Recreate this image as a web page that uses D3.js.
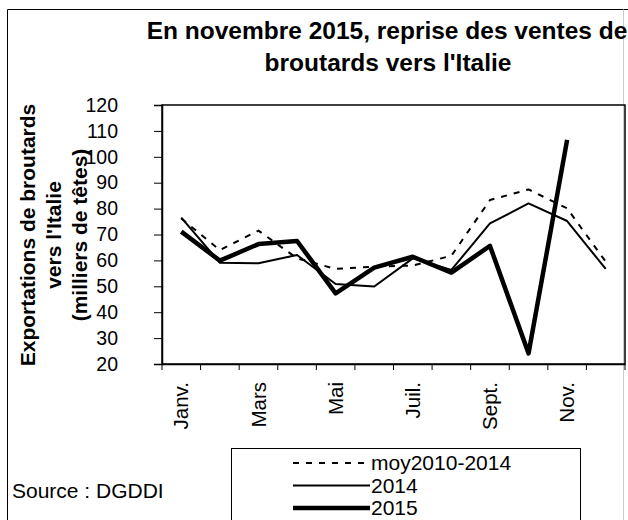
<!DOCTYPE html>
<html>
<head>
<meta charset="utf-8">
<script src="https://cdn.jsdelivr.net/npm/d3@7"></script>
<style>
  body { margin: 0; background: #fff; }
  svg { font-family: "Liberation Sans", Arial, sans-serif; }
</style>
</head>
<body>
<div id="chart"></div>
<script>
(function () {
    'use strict';

    var months = ['Janv.', 'Févr.', 'Mars', 'Avr.', 'Mai', 'Juin', 'Juil.', 'Août', 'Sept.', 'Oct.', 'Nov.', 'Déc.'];
    var shownMonths = ['Janv.', 'Mars', 'Mai', 'Juil.', 'Sept.', 'Nov.'];
    var moy = [76.2, 64.0, 71.5, 60.8, 56.7, 57.6, 58.0, 61.8, 83.3, 87.4, 80.1, 59.5];
    var y2014 = [76.5, 59.1, 58.9, 62.1, 50.9, 49.9, 60.8, 56.3, 74.3, 82.0, 75.2, 56.7];
    var y2015 = [71.1, 59.9, 66.3, 67.5, 47.3, 57.2, 61.4, 55.3, 65.6, 24.1, 106.5];
    var yTicks = [20, 30, 40, 50, 60, 70, 80, 90, 100, 110, 120];

    var W = 628, H = 520;
    var margin = {top: 105, right: 3, bottom: 156, left: 162},
        width = W - margin.left - margin.right,
        height = H - margin.top - margin.bottom;

    var svg = d3.select('#chart').append('svg')
        .attr('width', W)
        .attr('height', H);

    // outer frame
    svg.append('line')
        .attr('x1', 7.5).attr('x2', 7.5).attr('y1', 9.5).attr('y2', H)
        .attr('stroke', '#000');
    svg.append('line')
        .attr('x1', 7.5).attr('x2', W).attr('y1', 9.5).attr('y2', 9.5)
        .attr('stroke', '#000');
    svg.append('line')
        .attr('x1', 623.5).attr('x2', 623.5).attr('y1', 9.5).attr('y2', H)
        .attr('stroke', '#ccc');

    svg.append('text')
        .attr('x', 387).attr('y', 39)
        .attr('text-anchor', 'middle')
        .style('font-weight', 'bold').style('font-size', '24.5px')
        .text('En novembre 2015, reprise des ventes de');
    svg.append('text')
        .attr('x', 388).attr('y', 71)
        .attr('text-anchor', 'middle')
        .style('font-weight', 'bold').style('font-size', '24.5px')
        .text("broutards vers l'Italie");

    var g = svg.append('g')
        .attr('transform', 'translate(' + margin.left + ',' + margin.top + ')');

    var x = d3.scaleBand().domain(months).range([0, width]);
    var y = d3.scaleLinear().domain([20, 120]).range([height, 0]);

    // plot box
    g.append('rect')
        .attr('width', width).attr('height', height)
        .attr('fill', 'none').attr('stroke', '#000').attr('stroke-width', 1.5);

    var yAxis = g.append('g')
        .call(d3.axisLeft(y).tickValues(yTicks).tickSize(8).tickPadding(36));
    yAxis.select('.domain').attr('stroke-width', 1.5);
    yAxis.selectAll('text').style('font-size', '19.5px').attr('fill', '#000');

    var xAxis = g.append('g')
        .attr('transform', 'translate(0,' + height + ')')
        .call(d3.axisBottom(x).tickSize(0).tickFormat(function (d) {
            return shownMonths.indexOf(d) >= 0 ? d : '';
        }));
    xAxis.select('.domain').attr('stroke-width', 1.5);
    xAxis.selectAll('text')
        .style('font-size', '20.5px').attr('fill', '#000')
        .attr('text-anchor', 'end')
        .attr('transform', 'rotate(-90)')
        .attr('x', -18).attr('y', 0).attr('dy', '0.35em');

    // band boundary ticks
    var bounds = months.map(function (m) { return x(m); }).concat([width]);
    g.selectAll('.xtick').data(bounds).enter().append('line')
        .attr('x1', function (d) { return d; }).attr('x2', function (d) { return d; })
        .attr('y1', height).attr('y2', height + 6)
        .attr('stroke', '#000').attr('stroke-width', 1);

    var line = d3.line()
        .x(function (d, i) { return x(months[i]) + x.bandwidth() / 2; })
        .y(function (d) { return y(d); });

    var series = [
        {name: 'moy2010-2014', values: moy, width: 2, dash: '6,7'},
        {name: '2014', values: y2014, width: 2, dash: null},
        {name: '2015', values: y2015, width: 4.5, dash: null}
    ];

    g.selectAll('.series').data(series).enter().append('path')
        .attr('fill', 'none').attr('stroke', '#000')
        .attr('stroke-width', function (d) { return d.width; })
        .attr('stroke-dasharray', function (d) { return d.dash; })
        .attr('stroke-linejoin', 'round')
        .attr('d', function (d) { return line(d.values); });

    // y axis title
    var yTitle = svg.append('text')
        .attr('transform', 'translate(0,235) rotate(-90)')
        .attr('text-anchor', 'middle')
        .style('font-weight', 'bold').style('font-size', '21px');
    ['Exportations de broutards', "vers l'Italie", '(milliers de têtes)'].forEach(function (t, i) {
        yTitle.append('tspan').attr('x', 0).attr('y', 35 + i * 26).text(t);
    });

    svg.append('text')
        .attr('x', 12).attr('y', 498)
        .style('font-size', '21px')
        .text('Source : DGDDI');

    // legend
    svg.append('rect')
        .attr('x', 231.5).attr('y', 448.5)
        .attr('width', 349).attr('height', 80)
        .attr('fill', 'none').attr('stroke', '#000').attr('stroke-width', 1);

    var leg = svg.selectAll('.leg').data(series).enter().append('g')
        .attr('transform', function (d, i) { return 'translate(293,' + (463 + i * 22.5) + ')'; });
    leg.append('line')
        .attr('x1', 0).attr('x2', 77)
        .attr('stroke', '#000')
        .attr('stroke-width', function (d) { return d.width; })
        .attr('stroke-dasharray', function (d) { return d.dash; });
    leg.append('text')
        .attr('x', 78).attr('dy', '0.35em')
        .style('font-size', '21px')
        .text(function (d) { return d.name; });
})();
</script>
</body>
</html>
